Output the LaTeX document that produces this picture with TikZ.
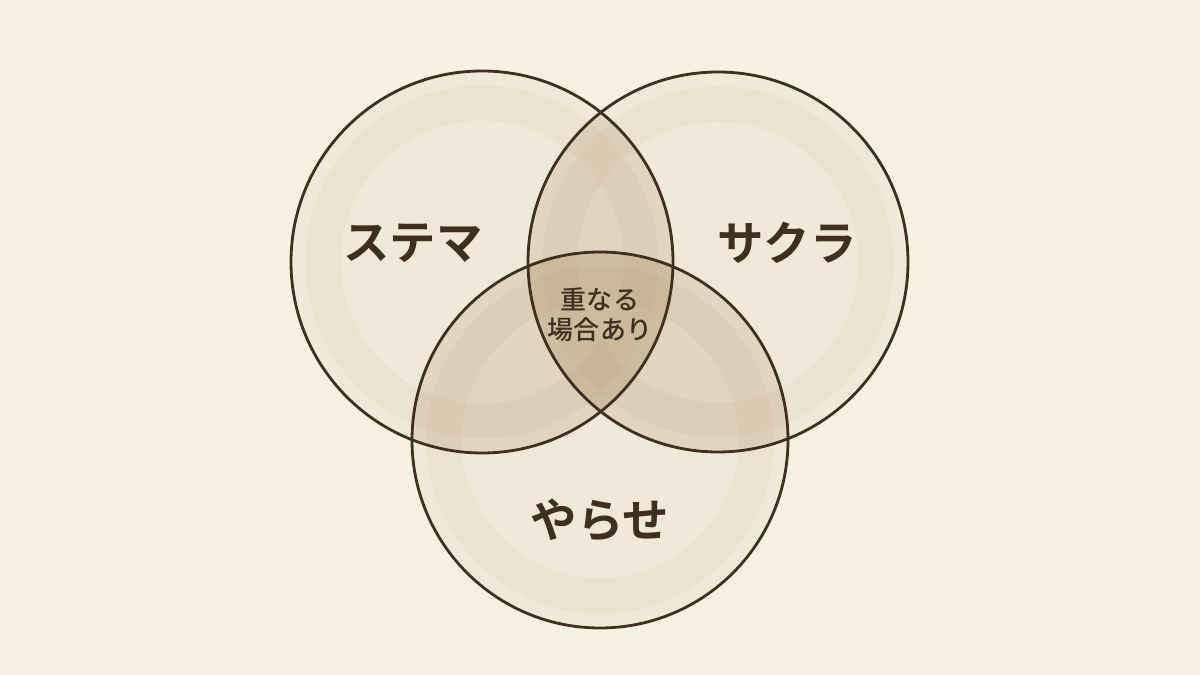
\documentclass[tikz,border=0pt]{standalone}
\usepackage{fontspec}
\newfontfamily\jp{Noto Sans CJK JP Medium}
\newfontfamily\jpbold{Noto Sans CJK JP Bold}
\usetikzlibrary{positioning}
\definecolor{paper}{RGB}{246,241,227}
\definecolor{wash}{RGB}{170,140,92}
\definecolor{ink}{RGB}{62,47,30}

\begin{document}
\begin{tikzpicture}
    \tikzstyle{wash} = [fill=wash, fill opacity=0.07]
    \tikzstyle{deep} = [fill=wash, fill opacity=0.14]
    \tikzstyle{rim} = [draw=wash, draw opacity=0.07, line width=0.35cm]
    \tikzstyle{ring} = [draw=ink, line width=0.8pt]
    \tikzstyle{big} = [text=ink, font=\jpbold\fontsize{13.2}{15}\selectfont]
    \tikzstyle{small} = [text=ink, font=\jp\fontsize{7.4}{8.6}\selectfont,
               align=center]

    % Paper
    \fill[paper] (0,0) rectangle (12,6.75);
    \useasboundingbox (0,0) rectangle (12,6.75);

    % Define circles
    \coordinate (stema) at (4.82,4.13);
    \coordinate (sakura) at (7.18,4.13);
    \coordinate (yarase) at (6.00,2.35);

    % Washes first, outlines on top
    \foreach \c/\r in {stema/1.91, sakura/1.90, yarase/1.88} {
      \fill[wash] (\c) circle (\r);
      \draw[rim] (\c) circle ({\r-0.32});
    }
    % Darker where two circles meet
    \foreach \a/\ra/\b/\rb in {stema/1.91/sakura/1.90,
                               stema/1.91/yarase/1.88,
                               sakura/1.90/yarase/1.88} {
      \begin{scope}
        \clip (\a) circle (\ra);
        \fill[deep] (\b) circle (\rb);
      \end{scope}
    }
    \foreach \c/\r in {stema/1.91, sakura/1.90, yarase/1.88}
      \draw[ring] (\c) circle (\r);

    % Labels
    \node[big] (stemalabel) at (4.13,4.32) {ステマ};
    \node[big] (sakuralabel) at (7.87,4.32) {サクラ};
    \node[big] (yaraselabel) at (6.00,1.55) {やらせ};
    \node[small] (overlap) at (6.00,3.60) {重なる\\場合あり};

\end{tikzpicture}
\end{document}
